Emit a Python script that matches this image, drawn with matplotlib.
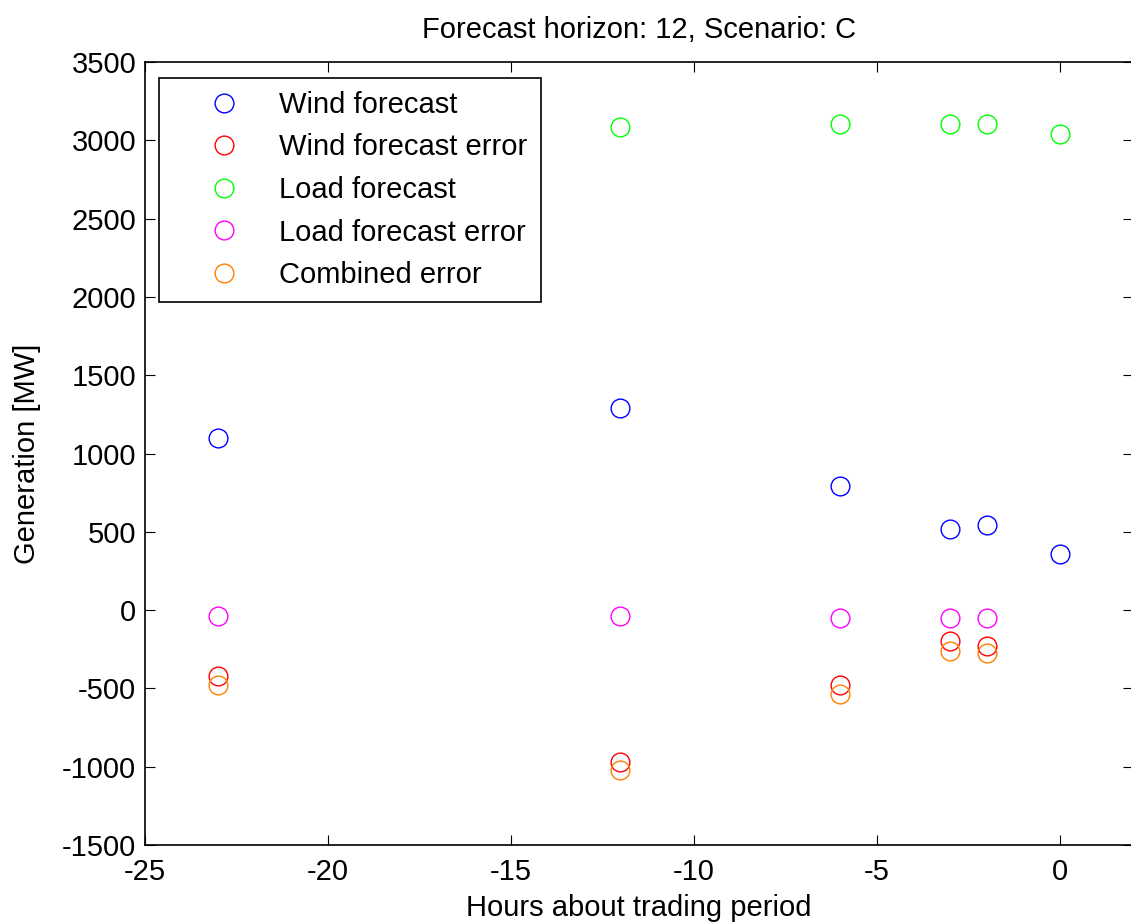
import matplotlib
matplotlib.use('Agg')
import matplotlib.pyplot as plt

# hours relative to trading period
hours_wind = [-23, -12, -6, -3, -2, 0]
wind_forecast = [1101, 1291, 795, 516, 546, 356]

hours_err = [-23, -12, -6, -3, -2]
wind_error = [-418, -972, -478, -199, -230]

hours_load = [-12, -6, -3, -2, 0]
load_forecast = [3085, 3102, 3102, 3102, 3042]

load_error = [-40, -40, -52, -52, -52]
combined_error = [-478, -1019, -535, -259, -273]

plt.rcParams['font.family'] = ['Liberation Sans', 'DejaVu Sans']
plt.rcParams['font.size'] = 21
plt.rcParams['axes.unicode_minus'] = False


def draw():
    fig = plt.figure(figsize=(11.31, 9.23), dpi=100)
    ax = fig.add_axes([0.1278, 0.0845, 0.874, 0.8483])

    style = dict(linestyle='none', marker='o', markersize=13.5,
                 markerfacecolor='none', markeredgewidth=1.0)
    ax.plot(hours_wind, wind_forecast, markeredgecolor='#0000ff',
            label='Wind forecast', **style)
    ax.plot(hours_err, wind_error, markeredgecolor='#ff0000',
            label='Wind forecast error', **style)
    ax.plot(hours_load, load_forecast, markeredgecolor='#00ff00',
            label='Load forecast', **style)
    ax.plot(hours_err, load_error, markeredgecolor='#ff00ff',
            label='Load forecast error', **style)
    ax.plot(hours_err, combined_error, markeredgecolor='#ff8000',
            label='Combined error', **style)

    ax.set_xlim(-25, 2)
    ax.set_ylim(-1500, 3500)
    ax.set_xticks(range(-25, 1, 5))
    ax.set_yticks(range(-1500, 3501, 500))

    ax.tick_params(direction='in', top=True, right=True, length=7.5,
                   width=0.8, colors='black')
    ax.tick_params(axis='x', pad=9)
    ax.tick_params(axis='y', pad=6)
    for s in ax.spines.values():
        s.set_linewidth(1.2)

    ax.set_title('Forecast horizon: 12, Scenario: C', fontsize=21, pad=17)
    ax.set_xlabel('Hours about trading period', labelpad=6)
    ax.set_ylabel('Generation [MW]', labelpad=15)

    leg = ax.legend(loc='upper left', bbox_to_anchor=(0.0144, 0.98),
                    borderaxespad=0, fancybox=False, framealpha=1,
                    edgecolor='black', handlelength=3.58, handletextpad=0.1,
                    labelspacing=0.5, borderpad=0.45, fontsize=21)
    leg.get_frame().set_linewidth(1.2)

    fig.savefig('out.png', dpi=100)


if __name__ == '__main__':
    draw()
